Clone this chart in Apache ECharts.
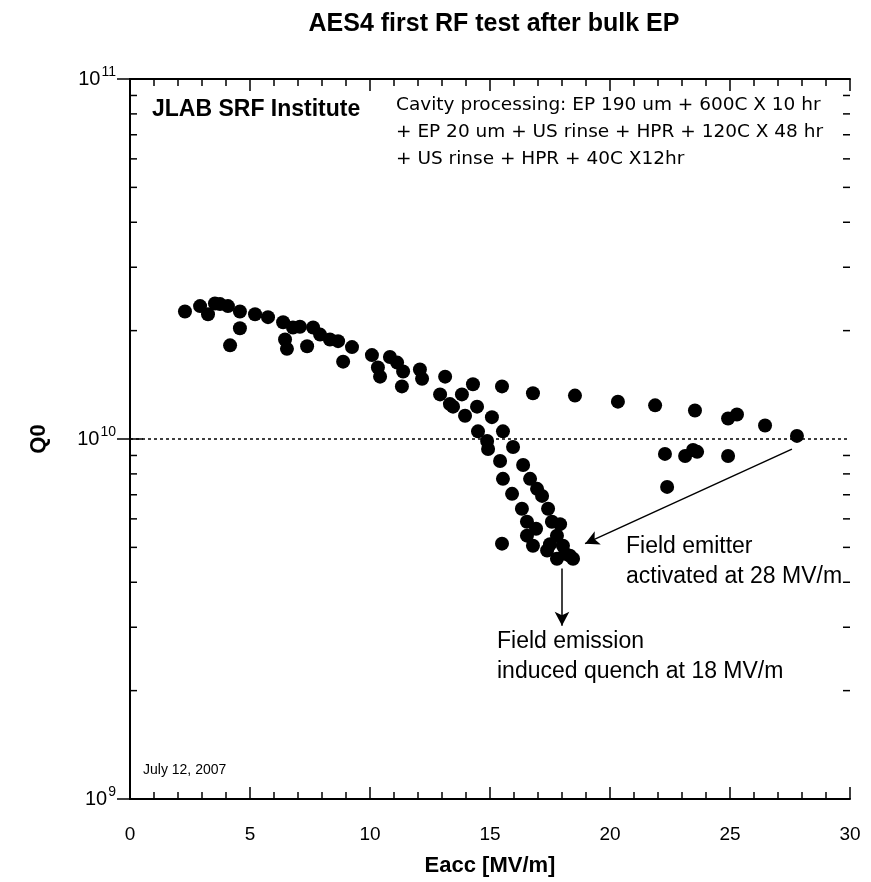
<!DOCTYPE html>
<html>
<head>
<meta charset="utf-8">
<script src="https://cdn.jsdelivr.net/npm/echarts@6/dist/echarts.min.js"></script>
<style>html,body{margin:0;padding:0;background:#fff}#c{width:871px;height:882px}</style>
</head>
<body>
<div id="c"></div>
<script>
// Eacc [MV/m] and Q0 of each measured point
const eacc = [2.29,2.92,3.25,3.54,3.75,4.08,4.58,5.21,5.75,4.58,4.17,6.38,6.46,6.54,6.79,7.08,7.38,7.63,7.92,8.33,8.67,9.25,8.88,10.08,10.33,10.42,10.83,11.13,11.38,11.33,12.08,12.17,13.13,12.92,13.33,13.83,14.29,14.46,13.96,15.08,15.5,16.79,18.54,20.33,21.88,23.54,24.92,25.29,26.46,27.79,22.29,23.13,23.46,23.63,24.92,22.38,14.5,14.88,15.54,14.92,15.96,15.42,16.38,15.54,16.67,15.92,16.96,17.17,16.33,17.42,16.54,17.58,16.54,17.79,16.79,17.38,18.04,18.33,17.79,18.46,15.5,13.46,16.92,17.92,18.13,17.5];
const q0 = [2.26e10,2.34e10,2.22e10,2.38e10,2.37e10,2.34e10,2.26e10,2.22e10,2.18e10,2.03e10,1.82e10,2.11e10,1.89e10,1.78e10,2.04e10,2.05e10,1.81e10,2.04e10,1.95e10,1.89e10,1.87e10,1.80e10,1.64e10,1.71e10,1.58e10,1.49e10,1.69e10,1.63e10,1.54e10,1.40e10,1.56e10,1.47e10,1.49e10,1.33e10,1.25e10,1.33e10,1.42e10,1.23e10,1.16e10,1.15e10,1.40e10,1.34e10,1.32e10,1.27e10,1.24e10,1.20e10,1.14e10,1.17e10,1.09e10,1.02e10,9.09e9,8.97e9,9.32e9,9.21e9,8.97e9,7.36e9,1.05e10,9.87e9,1.05e10,9.38e9,9.50e9,8.69e9,8.47e9,7.75e9,7.75e9,7.04e9,7.27e9,6.95e9,6.40e9,6.40e9,5.89e9,5.89e9,5.39e9,5.39e9,5.05e9,4.90e9,5.05e9,4.74e9,4.65e9,4.65e9,5.12e9,1.23e10,5.63e9,5.80e9,4.80e9,5.10e9];
// axis settings
const xMin = 0, xMax = 30, xStep = 5;
const yMin = 1e9, yMax = 1e11;
const yMinorTicks = [2e9,3e9,4e9,5e9,6e9,7e9,8e9,9e9,2e10,3e10,4e10,5e10,6e10,7e10,8e10,9e10];
const refLine = 1e10;
// annotation arrows: [start, end] in data coordinates
const arrow1 = [[27.58, 9.37e9], [18.96, 5.12e9]];
const arrow2 = [[18.0, 4.37e9], [18.0, 3.03e9]];

const chart = echarts.init(document.getElementById('c'));
const FONT = '"Liberation Sans", Arial, sans-serif';
const pts = eacc.map((x, i) => [x, q0[i]]);
const axisLineStyle = {color: '#000', width: 2};

function supLabel(v) {
  const e = Math.round(Math.log10(v));
  return '{b|10}{s|' + e + '}';
}

chart.setOption({
  animation: false,
  backgroundColor: '#fff',
  title: {
    text: 'AES4 first RF test after bulk EP',
    left: 489, top: 7, textAlign: 'center',
    textStyle: {fontFamily: FONT, fontWeight: 'bold', fontSize: 25, color: '#000'}
  },
  grid: {left: 130, top: 79, right: 21, bottom: 81},
  xAxis: [{
    type: 'value', min: xMin, max: xMax, interval: xStep,
    name: 'Eacc [MV/m]', nameLocation: 'middle', nameGap: 56,
    nameTextStyle: {fontFamily: FONT, fontWeight: 'bold', fontSize: 22, color: '#000'},
    axisLine: {show: true, lineStyle: axisLineStyle},
    axisTick: {show: true, inside: true, length: 12, lineStyle: {color: '#000', width: 1.5}},
    minorTick: {show: true, splitNumber: 5, length: 7, lineStyle: {color: '#000', width: 1.5}},
    axisLabel: {fontFamily: FONT, fontSize: 19, color: '#000', margin: 26},
    splitLine: {show: false}
  }, {
    type: 'value', min: xMin, max: xMax, interval: xStep, position: 'top',
    axisLine: {show: true, lineStyle: axisLineStyle},
    axisTick: {show: true, inside: true, length: 12, lineStyle: {color: '#000', width: 1.5}},
    minorTick: {show: true, splitNumber: 5, length: 7, lineStyle: {color: '#000', width: 1.5}},
    axisLabel: {show: false}, splitLine: {show: false}
  }],
  yAxis: [{
    type: 'log', logBase: 10, min: yMin, max: yMax, splitNumber: 2,
    name: 'Q0', nameLocation: 'middle', nameGap: 80, nameRotate: 90,
    nameTextStyle: {fontFamily: FONT, fontWeight: 'bold', fontSize: 22, color: '#000'},
    axisLine: {show: true, lineStyle: axisLineStyle},
    axisTick: {show: true, inside: true, length: 13, lineStyle: {color: '#000', width: 1.5}},
    axisLabel: {
      margin: 14, formatter: supLabel, color: '#000',
      rich: {
        b: {fontFamily: FONT, fontSize: 20, color: '#000'},
        s: {fontFamily: FONT, fontSize: 14, color: '#000', verticalAlign: 'top', padding: [0, 0, 14, 1]}
      }
    },
    splitLine: {show: false}
  }, {
    type: 'log', logBase: 10, min: yMin, max: yMax, splitNumber: 2, position: 'right',
    axisLine: {show: true, lineStyle: axisLineStyle},
    axisTick: {show: true, inside: true, length: 13, lineStyle: {color: '#000', width: 1.5}},
    axisLabel: {show: false}, splitLine: {show: false}
  }],
  series: [{
    type: 'scatter', data: pts, symbol: 'circle', symbolSize: 14,
    itemStyle: {color: '#000', opacity: 1},
    markLine: {
      silent: true, symbol: ['none', 'none'], label: {show: false},
      lineStyle: {color: '#000', width: 1.5, type: [3, 3], opacity: 1},
      data: [{yAxis: refLine}]
    },
    z: 3
  }, {
    type: 'custom', data: yMinorTicks.map(v => [xMin, v]), silent: true, clip: false,
    renderItem: function (params, api) {
      const v = api.value(1);
      const l = api.coord([xMin, v]);
      const r = api.coord([xMax, v]);
      const st = {stroke: '#000', lineWidth: 1.5};
      return {type: 'group', children: [
        {type: 'line', shape: {x1: l[0], y1: l[1], x2: l[0] + 7, y2: l[1]}, style: st},
        {type: 'line', shape: {x1: r[0], y1: r[1], x2: r[0] - 7, y2: r[1]}, style: st}
      ]};
    },
    z: 2
  }, {
    type: 'line', data: [], silent: true,
    markLine: {
      silent: true, symbol: ['none', 'arrow'], symbolSize: [11, 14], label: {show: false},
      lineStyle: {color: '#000', width: 1.5, type: 'solid', opacity: 1},
      data: [
        [{coord: arrow1[0]}, {coord: arrow1[1]}],
        [{coord: arrow2[0]}, {coord: arrow2[1]}]
      ]
    }
  }],
  graphic: [
    {type: 'text', left: 152, top: 98, style: {text: 'JLAB SRF Institute', font: 'bold 23px "Liberation Sans", Arial, sans-serif', fill: '#000'}},
    {type: 'text', left: 396, top: 92, style: {text: 'Cavity processing: EP 190 um + 600C X 10 hr\n+ EP 20 um + US rinse + HPR + 120C X 48 hr\n+ US rinse + HPR + 40C X12hr', font: '18.5px "DejaVu Sans", sans-serif', lineHeight: 27, fill: '#000'}},
    {type: 'text', left: 626, top: 532, style: {text: 'Field emitter\nactivated at 28 MV/m', font: '23px "Liberation Sans", Arial, sans-serif', lineHeight: 30, fill: '#000'}},
    {type: 'text', left: 497, top: 627, style: {text: 'Field emission\ninduced quench at 18 MV/m', font: '23px "Liberation Sans", Arial, sans-serif', lineHeight: 30, fill: '#000'}},
    {type: 'text', left: 143, top: 763, style: {text: 'July 12, 2007', font: '14px "Liberation Sans", Arial, sans-serif', fill: '#000'}}
  ]
});
</script>
</body>
</html>
